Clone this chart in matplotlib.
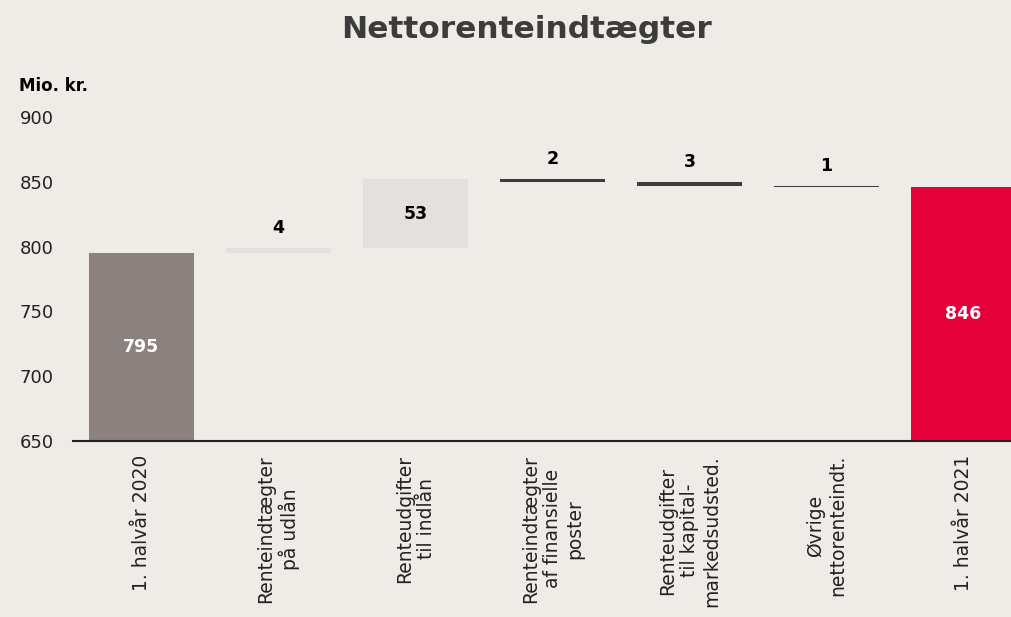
import matplotlib
matplotlib.use("Agg")
import matplotlib.pyplot as plt

categories = ["1. halvår 2020", "Renteindtægter\npå udlån", "Renteudgifter\ntil indlån",
              "Renteindtægter\naf finansielle\nposter", "Renteudgifter\ntil kapital-\nmarkedsudsted.",
              "Øvrige\nnettorenteindt.", "1. halvår 2021"]
start_value = 795
changes = [4, 53, -2, -3, -1]
end_value = 846
change_labels = ["4", "53", "2", "3", "1"]
yticks = [650, 700, 750, 800, 850, 900]

BG = "#efebe6"
C_START = "#8b817e"
C_POS = "#e3e0dd"
C_NEG = "#3c3c3c"
C_END = "#e4003a"

plt.rcParams['font.family'] = ['DejaVu Sans']
fig = plt.figure(figsize=(10.12, 6.17), dpi=100, facecolor=BG)
W, H = 1012, 617
ax = fig.add_axes([73 / W, 1 - 441 / H, (1012 - 73) / W, (441 - 117) / H])
ax.set_facecolor(BG)

bw = 0.77
base = 650
ax.bar(0, start_value - base, bottom=base, width=bw, color=C_START)
ax.text(0, (start_value + base) / 2, str(start_value), ha="center", va="center",
        color="white", fontsize=12.5, fontweight="bold")
level = start_value
for i, (c, lab) in enumerate(zip(changes, change_labels), start=1):
    lo, hi = min(level, level + c), max(level, level + c)
    col = C_POS if c > 0 else C_NEG
    ax.bar(i, hi - lo, bottom=lo, width=bw, color=col, linewidth=0)
    if abs(c) > 20:
        ax.text(i, (lo + hi) / 2, lab, ha="center", va="center", color="black",
                fontsize=12.5, fontweight="bold")
    else:
        ax.annotate(lab, (i, hi), xytext=(0, 8), textcoords="offset points",
                    ha="center", va="bottom", color="black", fontsize=12.5, fontweight="bold")
    level += c
n = len(categories) - 1
ax.bar(n, end_value - base, bottom=base, width=bw, color=C_END)
ax.text(n, (end_value + base) / 2, str(end_value), ha="center", va="center",
        color="white", fontsize=12.5, fontweight="bold")

ax.set_xlim(-0.5, (1012 - 73) / 137 - 0.5)
ax.set_ylim(650, 900)
ax.set_yticks(yticks)
ax.set_yticklabels([str(v) for v in yticks], fontsize=13, color="#222222")
ax.set_xticks(range(len(categories)))
ax.set_xticklabels(categories, rotation=90, ha="center", va="top", multialignment="center",
                   fontsize=13.5, color="#222222")
ax.tick_params(axis="both", length=0)
ax.tick_params(axis="y", pad=14)
ax.tick_params(axis="x", pad=10)
for s in ["top", "right", "left"]:
    ax.spines[s].set_visible(False)
ax.spines["bottom"].set_color("#222222")
ax.spines["bottom"].set_linewidth(1.5)

fig.text(527 / W, 1 - 29 / H, "Nettorenteindtægter", ha="center", va="center",
         fontsize=22.5, fontweight="bold", color="#3c3c3c")
fig.text(19 / W, 1 - 86 / H, "Mio. kr.", ha="left", va="center",
         fontsize=12, fontweight="bold", color="black")

fig.savefig("out.png", dpi=100, facecolor=BG)
